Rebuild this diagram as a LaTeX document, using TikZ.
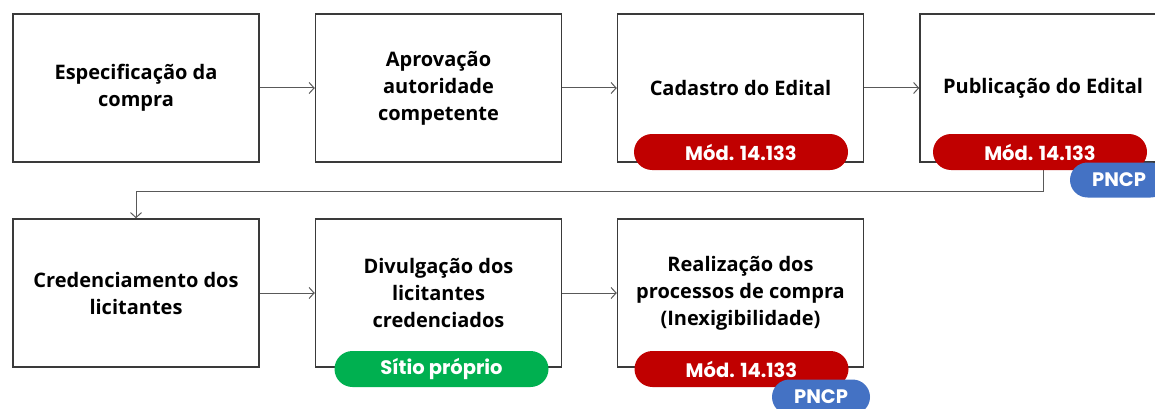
\documentclass[tikz,border=0pt]{standalone}
\usepackage{fontspec}
\setmainfont{Open Sans}
\newfontfamily\pillfont{Poppins}
\usetikzlibrary{arrows.meta}
\definecolor{boxline}{HTML}{3A3A3A}
\definecolor{conn}{HTML}{595959}
\definecolor{pillred}{HTML}{C00000}
\definecolor{pillblue}{HTML}{4472C4}
\definecolor{pillgreen}{HTML}{00B050}
\tikzset{
  stepbox/.style={draw=boxline, line width=1.5pt, fill=white, minimum width=246pt, minimum height=148pt,
    align=center, inner sep=0pt, font=\bfseries\fontsize{20}{27}\selectfont},
  pill/.style={rounded corners=18pt, minimum width=214pt, minimum height=36pt, inner sep=0pt,
    text=white, font=\pillfont\bfseries\fontsize{19.5}{22}\selectfont},
  pncp/.style={pill, fill=pillblue, minimum width=98pt, rounded corners=17.5pt, minimum height=35pt},
  link/.style={draw=conn, line width=1pt, -{Straight Barb[length=5pt,width=11pt]}}
}
\begin{document}
\begin{tikzpicture}[x=1pt,y=-1pt]
\clip (0,0) rectangle (1155,409);
\useasboundingbox (0,0) rectangle (1155,409);
\node[stepbox] (b1) at (136,88) {Especificação da\\compra};
\node[stepbox] (b2) at (438.5,88) {Aprovação\\autoridade\\competente};
\node[stepbox] (b3) at (740.5,88) {Cadastro do Edital};
\node[stepbox] (b4) at (1043,88) {Publicação do Edital};
\node[stepbox] (b5) at (136,293) {Credenciamento dos\\licitantes};
\node[stepbox] (b6) at (438.5,293) {Divulgação dos\\licitantes\\credenciados};
\node[stepbox] (b7) at (740.5,293) {Realização dos\\processos de compra\\(Inexigibilidade)};
\draw[link] (b1) -- (b2);
\draw[link] (b2) -- (b3);
\draw[link] (b3) -- (b4);
\draw[link] (b5) -- (b6);
\draw[link] (b6) -- (b7);
\coordinate (c1) at (1043,191);
\coordinate (c2) at (136,191);
\draw[link] (b4.south) -- (c1) -- (c2) -- (b5.north);
\node[pill, fill=pillred] (p3) at (741,152) {Mód. 14.133};
\node[pill, fill=pillred] (p4) at (1040,152) {Mód. 14.133};
\node[pncp] (n4) at (1119,180) {PNCP};
\node[pill, fill=pillgreen] (g6) at (441.5,369) {Sítio próprio};
\node[pill, fill=pillred] (p7) at (741.5,369) {Mód. 14.133};
\node[pncp] (n7) at (821,397) {PNCP};
\end{tikzpicture}
\end{document}
